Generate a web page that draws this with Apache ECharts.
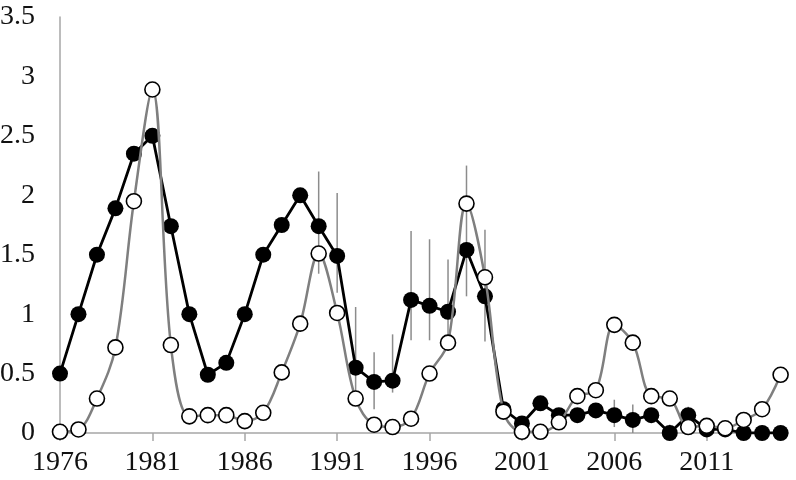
<!DOCTYPE html>
<html>
<head>
<meta charset="utf-8">
<script src="https://cdn.jsdelivr.net/npm/echarts@6/dist/echarts.min.js"></script>
<style>
  html, body { margin: 0; padding: 0; background: #fff; }
  #chart { width: 796px; height: 480px; }
</style>
</head>
<body>
<div id="chart"></div>
<script>
  // values, one per year
  var years = [1976, 1977, 1978, 1979, 1980, 1981, 1982, 1983, 1984, 1985,
               1986, 1987, 1988, 1989, 1990, 1991, 1992, 1993, 1994, 1995,
               1996, 1997, 1998, 1999, 2000, 2001, 2002, 2003, 2004, 2005,
               2006, 2007, 2008, 2009, 2010, 2011, 2012, 2013, 2014, 2015];
  var filled = [0.5, 1.0, 1.5, 1.89, 2.35, 2.5, 1.74, 1.0, 0.49, 0.59,
                1.0, 1.5, 1.75, 2.0, 1.74, 1.49, 0.55, 0.43, 0.44, 1.12,
                1.07, 1.02, 1.54, 1.15, 0.2, 0.08, 0.25, 0.15, 0.15, 0.19,
                0.15, 0.11, 0.15, 0.0, 0.15, 0.03, 0.03, 0.0, 0.0, 0.0];
  var open = [0.01, 0.03, 0.29, 0.72, 1.95, 2.89, 0.74, 0.14, 0.15, 0.15,
              0.1, 0.17, 0.51, 0.92, 1.51, 1.01, 0.29, 0.07, 0.05, 0.12,
              0.5, 0.76, 1.93, 1.31, 0.18, 0.01, 0.01, 0.09, 0.31, 0.36,
              0.91, 0.76, 0.31, 0.29, 0.05, 0.06, 0.04, 0.11, 0.2, 0.49];

  // error bars (vertical grey lines)
  var errYears = [1990, 1991, 1992, 1993, 1994, 1995, 1996, 1997, 1998, 1999, 2006, 2007, 2009, 2010];
  var errHigh = [2.2, 2.02, 1.06, 0.68, 0.83, 1.7, 1.63, 1.46, 2.25, 1.71, 0.28, 0.24, 0.07, 0.22];
  var errLow = [1.34, 1.18, 0.32, 0.2, 0.34, 0.78, 0.78, 0.76, 1.15, 0.77, 0.05, 0.0, 0.0, 0.1];

  var yTicks = ['0', '0.5', '1', '1.5', '2', '2.5', '3', '3.5'];

  var chart = echarts.init(document.getElementById('chart'));

  var font = 'Liberation Serif, Times New Roman, serif';

  chart.setOption({
    animation: false,
    grid: { left: 60, right: 8, top: 17, bottom: 47, outerBoundsMode: 'none' },
    xAxis: {
      type: 'value',
      min: 1976,
      max: 2015.4,
      interval: 5,
      axisLine: { lineStyle: { color: '#a6a6a6', width: 1.5 } },
      axisTick: { show: true, length: 8, lineStyle: { color: '#a6a6a6', width: 1.5 } },
      axisLabel: {
        color: '#111', fontFamily: font, fontSize: 28, margin: 16,
        showMaxLabel: false,
        formatter: function (v) { return String(v); }
      },
      splitLine: { show: false }
    },
    yAxis: {
      type: 'value',
      min: 0,
      max: 3.5,
      interval: 0.5,
      axisLine: { show: true, lineStyle: { color: '#a6a6a6', width: 1.5 } },
      axisTick: { show: false },
      axisLabel: {
        color: '#111', fontFamily: font, fontSize: 28, margin: 25,
        formatter: function (v) { return yTicks[Math.round(v * 2)]; }
      },
      splitLine: { show: false }
    },
    series: [
      {
        type: 'custom',
        z: 1,
        data: errYears.map(function (y, i) { return [y, errLow[i], errHigh[i]]; }),
        renderItem: function (params, api) {
          var lo = api.coord([api.value(0), api.value(1)]);
          var hi = api.coord([api.value(0), api.value(2)]);
          return {
            type: 'line',
            shape: { x1: lo[0], y1: lo[1], x2: hi[0], y2: hi[1] },
            style: { stroke: '#8c8c8c', lineWidth: 1.5 }
          };
        }
      },
      {
        type: 'line',
        z: 3,
        data: years.map(function (y, i) { return [y, filled[i]]; }),
        symbol: 'circle',
        symbolSize: 16,
        lineStyle: { color: '#000', width: 2.8 },
        itemStyle: { color: '#000', borderColor: '#000', borderWidth: 0 }
      },
      {
        type: 'line',
        z: 4,
        smooth: 0.35,
        data: years.map(function (y, i) { return [y, open[i]]; }),
        symbol: 'circle',
        symbolSize: 15,
        lineStyle: { color: '#7f7f7f', width: 2.5 },
        itemStyle: { color: '#fff', borderColor: '#000', borderWidth: 1.6 }
      }
    ]
  });
</script>
</body>
</html>
